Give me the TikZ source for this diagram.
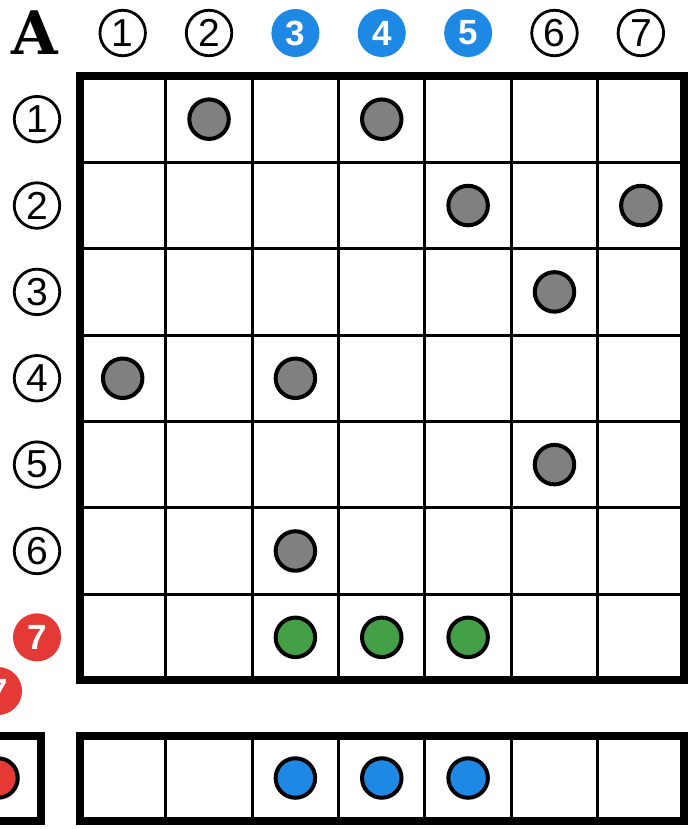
\documentclass[tikz,border=0pt]{standalone}
\usepackage{fontspec}
\newfontfamily\numfont{Liberation Sans}
\newfontfamily\titlefont{DejaVu Serif}
\definecolor{myblue}{HTML}{1E88E5}
\definecolor{myred}{HTML}{E53935}
\definecolor{mygreen}{HTML}{43A047}
\definecolor{mygray}{HTML}{808080}
\begin{document}
\begin{tikzpicture}[x=1pt,y=-1pt,
  outnum/.style={circle, draw=black, line width=2.8pt, minimum size=45.5pt, inner sep=0pt,
    font=\numfont\fontsize{39}{39}\selectfont},
  fillnum/.style={circle, fill=#1, text=white, minimum size=48pt, inner sep=0pt,
    font=\numfont\bfseries\fontsize{35}{35}\selectfont},
  dot/.style={circle, draw=black, fill=#1, line width=4pt, minimum size=39.5pt, inner sep=0pt},
  thin/.style={line width=3pt},
  thick/.style={line width=8pt},
]
\useasboundingbox (0,0) rectangle (693,829);
\clip (0,0) rectangle (693,829);
\def\cw{86.36}
% title
\node (A) at (35,33) {\titlefont\fontsize{60}{60}\selectfont\bfseries A};
% column labels
\foreach \i/\s in {1/outnum,2/outnum,6/outnum,7/outnum}
  \node[\s] (c\i) at ({79.5+\cw*(\i-0.5)},33) {\i};
\foreach \i in {3,4,5}
  \node[fillnum=myblue] (c\i) at ({79.5+\cw*(\i-0.5)},33) {\i};
% row labels
\foreach \j in {1,...,6}
  \node[outnum] (r\j) at (37,{76+\cw*(\j-0.5)}) {\j};
\node[fillnum=myred] (r7) at (37,{76+\cw*6.5}) {7};
\node[fillnum=myred] (r7b) at (-2,691) {7};
% main grid
\foreach \i in {1,...,6} {
  \draw[thin] ({79.5+\cw*\i},76) -- ({79.5+\cw*\i},680);
  \draw[thin] (79.5,{76+\cw*\i}) -- (684,{76+\cw*\i});
}
\draw[thick] (79.5,76) rectangle (684,680);
% bottom row
\foreach \i in {1,...,6}
  \draw[thin] ({79.5+\cw*\i},735.5) -- ({79.5+\cw*\i},821);
\draw[thick] (79.5,735.5) rectangle (684,821);
% left box
\draw[thick] (-45,735.5) rectangle (41,821);
\node[dot=myred] (red) at (-2,778) {};
% gray dots
\foreach \i/\j [count=\k] in {2/1,4/1,5/2,7/2,6/3,1/4,3/4,6/5,3/6}
  \node[dot=mygray] (g\k) at ({79.5+\cw*(\i-0.5)},{76+\cw*(\j-0.5)}) {};
% green dots
\foreach \i in {3,4,5}
  \node[dot=mygreen] (gr\i) at ({79.5+\cw*(\i-0.5)},{76+\cw*6.5}) {};
% blue dots
\foreach \i in {3,4,5}
  \node[dot=myblue] (b\i) at ({79.5+\cw*(\i-0.5)},778) {};
\end{tikzpicture}
\end{document}
